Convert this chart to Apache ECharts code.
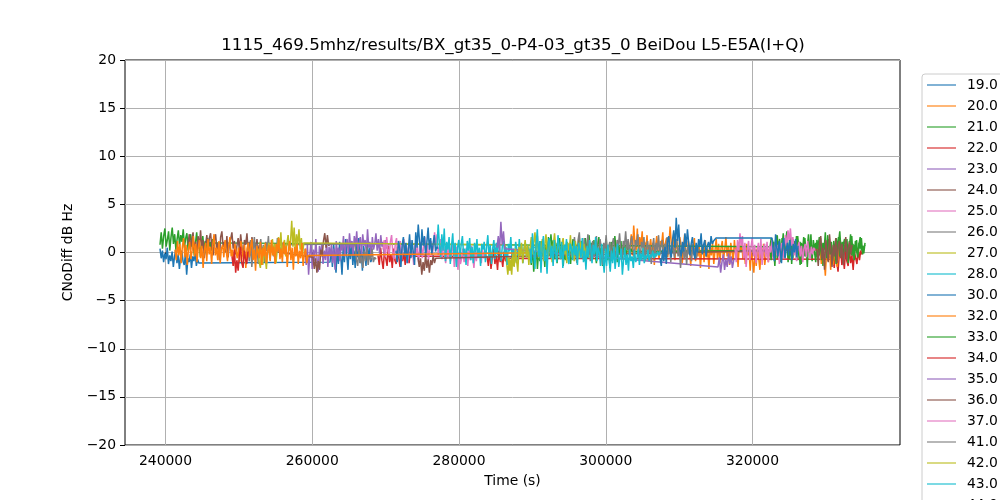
<!DOCTYPE html>
<html><head><meta charset="utf-8">
<script src="https://cdn.jsdelivr.net/npm/echarts@6/dist/echarts.min.js"></script>
<style>html,body{margin:0;padding:0;background:#fff}#c{width:1000px;height:500px}</style>
</head><body><div id="c"></div><script>
const titleText = '1115_469.5mhz/results/BX_gt35_0-P4-03_gt35_0 BeiDou L5-E5A(I+Q)';
const xTicks = [240000, 260000, 280000, 300000, 320000];
const names = ['19.0','20.0','21.0','22.0','23.0','24.0','25.0','26.0','27.0','28.0','30.0','32.0','33.0','34.0','35.0','36.0','37.0','41.0','42.0','43.0','44.0'];
const colors = ['#1f77b4','#ff7f0e','#2ca02c','#d62728','#9467bd','#8c564b','#e377c2','#7f7f7f','#bcbd22','#17becf'];

// each pass: [start time (s), end time (s), CNoDiff values sampled evenly across the pass]
const s19 = [
 [239250, 244700, [0.4,-0.6,0.2,-1.0,-0.1,-0.7,0.5,-1.2,-0.3,-0.9,0.1,-1.5,-0.4,0.3,-1.1,-0.2,-1.7,-0.5,0.2,-0.9,-1.3,-0.1,-2.3,-0.6,-1.0,-0.2,-1.6,-0.4,-0.9,0.1,-1.4,-0.7,-1.1,-1.2]],
 [262420, 268140, [-1.0,0.4,-1.5,0.9,-0.6,-2.1,0.3,-1.2,1.1,-0.4,-2.3,0.6,-1.0,1.4,-0.3,-1.8,0.8,-0.7,1.2,-1.3,0.2,-1.6,0.9,-0.5,1.5,-1.1,0.4,-1.9,0.7,-0.2,-1.4,1.0,-0.8,0.5,-1.0,-0.6]]
];
const s20 = [
 [303310, 322660, [0.6,1.9,-0.3,2.8,1.0,0.2,2.5,-0.6,1.6,0.7,2.2,-0.4,1.1,0.3,1.8,-0.9,0.5,1.4,-0.2,1.0,
  -1.3,0.6,1.7,0.1,-0.7,1.2,0.8,2.1,-0.4,0.9,1.5,-0.5,0.7,2.7,0.9,0.1,2.0,-0.8,1.3,0.4,
  -0.3,1.6,0.8,-1.1,0.3,1.9,0.0,-0.6,1.2,0.5,-1.4,0.9,0.2,1.5,-0.9,0.6,-0.4,1.1,-1.6,0.3,
  0.8,-1.0,1.3,-0.5,0.4,-1.7,0.7,-0.3,1.0,-1.2,0.2,1.4,-0.6,0.9,-1.1,0.5,1.2,-0.8,0.3,1.6,
  -0.4,0.7,-1.3,1.0,0.1,-0.9,1.3,-0.2,0.6,-1.5,0.8,0.2,1.1,-0.7,0.4,-1.2,0.9,-0.3,0.5,-1.9,
  0.2,-0.8,-2.1,0.1,-1.4,0.6,-0.6,-1.8,0.3,-0.5,0.9,-1.3,-0.2,0.6,-1.0,0.3,-0.5,0.1]]
];
const s21 = [
 [239250, 246750, [0.8,2.1,0.4,1.7,2.5,0.6,1.3,2.2,0.2,1.6,2.6,0.9,1.9,0.3,1.4,2.3,0.7,1.8,1.1,2.4,
  0.5,1.5,2.0,0.2,1.2,1.9,0.6,1.6,-0.3,1.0,2.1,0.4,1.3,-0.5,0.8,1.7,0.3,1.2,-0.2,1.5,
  0.6,1.1,0.2,1.4,0.7,1.0]],
 [322390, 335330, [0.6,1.5,-0.4,1.1,0.2,1.8,-0.7,0.9,1.4,-0.2,0.7,2.0,-0.5,0.4,1.3,-1.0,0.8,1.6,0.1,-0.6,
  1.2,0.3,1.7,-0.8,0.5,1.1,-1.2,0.9,0.2,1.5,-0.4,0.6,1.9,-0.1,0.8,-0.9,1.3,0.4,1.0,-0.5,
  0.7,1.6,-0.3,0.9,-1.4,0.5,1.2,0.0,1.8,-0.6,0.4,1.1,-0.9,0.8,0.2,1.5,-0.3,1.0,2.2,0.3,
  -0.7,0.9,1.4,-0.2,0.6,-1.1,1.2,0.4,1.7,-0.4,0.8,0.1,1.3,-0.6,0.9,1.6,0.2,0.7,-0.1,1.0]]
];
const s22 = [
 [268960, 273730, [-0.3,-1.3,0.5,-0.8,-1.7,0.2,-0.6,-1.4,0.7,-1.0,-0.2,-1.6,0.4,-0.8,-1.2,0.6,-0.5,-1.5,0.3,-0.9,-0.1,-1.3,0.5,-0.7,-1.1,0.2,-0.4,-0.6]],
 [283820, 286680, [-0.4,-1.4,0.3,-1.7,-0.6,0.4,-1.2,-0.3,-1.8,0.2,-1.0,-0.5,-1.5,0.1,-0.9,-0.6,-0.7]],
 [330970, 334920, [-0.7,-1.6,0.3,-1.0,-2.0,-0.2,0.6,-1.3,-0.5,-1.7,0.2,-0.9,-1.4,0.5,-1.1,-0.3,-1.8,0.1,-0.6,-1.2,0.4,-0.8,0.2,-0.2]]
];
const s23 = [
 [259010, 270320, [0.4,-1.3,0.8,-2.3,-0.2,1.1,-1.7,0.3,-0.9,1.4,-0.6,-2.0,0.7,-0.3,1.0,-1.2,0.2,-0.8,1.3,-1.5,
  0.6,-0.4,0.9,-1.1,0.4,-1.8,1.2,-0.2,0.5,-0.9,1.0,0.2,1.7,-0.4,0.8,1.4,-0.1,2.0,0.5,1.2,
  -0.3,1.7,0.6,2.2,0.1,1.0,1.6,-0.2,1.9,0.7,1.3,0.0,2.4,0.5,1.1,-0.4,1.6,0.3,0.9,2.0,
  0.2,1.4,-0.1,1.8,0.6,1.1,-0.3,1.3,0.4,0.8]]
];
const s24 = [
 [243070, 253150, [0.9,1.9,0.3,1.4,2.1,0.1,1.1,-0.4,1.7,0.6,2.3,0.4,1.3,-0.6,0.8,1.8,0.2,1.5,2.0,0.5,
  -0.3,1.2,1.9,0.3,1.0,-0.8,1.6,2.2,0.6,1.1,0.0,1.7,-0.5,0.9,1.4,2.1,0.4,1.2,-0.2,0.7,
  1.5,0.2,1.9,0.6,-0.4,1.3,0.8,2.0,0.1,1.1,-0.3,1.6,0.5,1.0,0.2,1.4,-0.1,0.8,0.3,0.2]],
 [260100, 262420, [-0.5,-1.7,-0.6,-2.1,-0.9,-1.8,0.3,-0.4,1.2,2.0,0.5,1.8,0.7,0.9]]
];
const s25 = [
 [269640, 283540, [0.3,1.3,-0.5,1.6,0.4,-0.3,1.1,1.8,0.0,-0.7,0.9,1.5,-0.4,0.6,1.2,-0.9,0.5,1.4,-0.2,0.8,
  -1.1,0.4,1.3,-0.5,0.2,-1.3,0.9,-0.3,0.7,-1.0,0.3,1.1,-0.6,0.5,1.6,-0.2,0.8,-0.8,0.4,1.2,
  -0.4,0.6,2.1,0.7,1.9,-0.3,0.5,1.4,-0.7,0.9,0.1,-1.1,0.4,-0.5,0.8,-0.9,0.2,1.0,-1.5,-0.3,
  0.6,-1.8,0.1,-1.2,-0.6,0.4,-1.0,-0.2,0.5,-1.4,0.3,-0.8,0.7,-0.4,-1.6,0.2,-0.9,0.4,-0.5,0.1,
  -1.1,0.3,-0.6,-0.2]]
];
const s26 = [
 [251240, 256290, [0.5,-0.9,1.3,-1.5,0.3,1.6,-0.5,0.9,-1.2,0.4,1.4,-0.3,0.8,-1.0,1.1,0.2,1.7,-0.6,0.7,1.2,-0.4,0.9,-0.8,1.5,0.1,0.6,-0.5,1.0,0.4,0.8]],
 [265830, 268690, [0.9,-0.7,-1.4,0.3,-1.1,-0.4,-1.6,0.2,-0.9,0.6,-1.3,-0.2,-0.8,0.4,-1.0,-0.5,-0.7]]
];
const s27 = [
 [252600, 259010, [0.4,-1.0,-1.6,0.3,-1.3,0.7,-0.5,-1.7,0.2,1.0,-0.8,0.6,1.4,-0.3,0.9,-1.1,0.5,1.6,0.1,2.1,
  -0.2,0.7,1.3,-0.4,0.9,1.8,0.2,1.1,3.3,0.6,2.6,0.1,1.9,0.8,2.4,0.3,1.5,-0.2,1.0,1.2]],
 [286270, 288000, [0.8,-0.9,-2.3,-0.6,-1.9,0.2,-1.4,-0.4,-1.1,-0.5]]
];
const s28 = [
 [277000, 290360, [0.6,2.9,0.8,-0.5,1.9,0.2,2.5,-0.9,1.1,0.3,1.6,-1.2,0.7,2.0,-0.4,1.0,-1.5,0.5,1.3,-0.7,
  0.9,1.7,-0.3,0.4,-1.3,1.2,0.2,1.5,-0.8,0.6,-1.1,1.0,0.0,1.4,-0.6,0.5,-1.4,0.9,0.3,1.1,
  -1.0,0.6,1.8,-0.5,0.8,-1.2,0.4,1.3,-0.7,1.0,-0.3,1.5,0.2,-0.9,0.7,1.2,-0.4,0.6,-1.3,0.9,
  0.1,1.6,-0.6,0.4,-1.0,1.1,0.3,-0.8,1.4,-0.2,0.8,-1.1,0.5,1.0,-0.5,0.7,0.2,-0.7,0.9,-0.1,
  0.6,0.5]]
];
const s30 = [
 [271410, 277140, [0.2,-1.0,1.2,0.4,-1.5,0.8,1.6,-0.4,1.0,-1.1,0.3,1.9,-0.6,1.3,0.0,-1.3,2.1,0.5,2.9,1.2,-0.3,2.4,0.7,1.7,-0.5,1.1,2.6,0.3,1.5,-0.2,0.9,1.8,0.1,0.6,0.4]]
];
const s32 = [
 [241300, 259420, [0.3,-0.8,1.2,-0.3,0.9,-1.1,0.6,1.5,-0.5,0.8,-1.3,0.4,1.1,-0.7,0.2,1.7,-0.4,0.9,-1.0,0.5,
  1.3,-0.6,0.7,-1.6,0.2,1.0,-0.9,1.4,-0.2,0.6,-1.2,0.9,1.9,-0.3,0.5,-0.8,1.2,-1.1,0.4,0.8,
  -0.5,1.3,0.1,-0.9,0.7,1.6,-0.4,0.3,-1.4,0.9,1.1,-0.6,0.5,-1.0,1.2,0.2,-0.7,0.8,-1.6,0.4,
  1.0,-0.5,0.6,1.4,-0.8,0.3,-1.9,0.7,0.9,-0.6,1.1,-1.3,0.5,-0.4,1.0,-1.1,0.2,0.8,-0.9,1.3,
  -0.3,0.6,-1.2,0.9,0.1,1.5,-0.7,0.4,-1.0,1.1,-0.2,0.7,-1.5,0.3,1.2,-0.8,0.5,-1.8,0.6,-0.4,
  0.9,-1.2,0.2,-0.6,1.0,-1.4,-0.1,0.4,-1.1,-0.3]],
 [329200, 331920, [0.3,-1.2,0.8,-0.5,-2.4,0.4,-0.9,0.9,-1.8,0.2,-1.3,0.6,-0.9,-1.5,0.3,0.1]]
];
const s33 = [
 [289680, 303580, [0.3,-1.3,0.7,-2.0,-0.3,0.9,-1.7,0.2,-0.9,1.2,-0.4,0.6,-1.5,0.8,0.0,1.6,-0.3,1.9,0.4,1.3,
  -0.7,1.0,-1.1,0.3,1.5,-0.6,0.8,-1.4,0.2,-0.8,1.1,-0.2,0.7,-1.2,0.5,1.4,-0.5,0.9,-1.0,0.4,
  1.7,-0.4,1.2,0.1,-0.9,1.5,0.6,-0.6,1.8,0.2,1.0,-0.7,1.3,-0.1,-1.1,0.8,1.6,-0.3,0.5,-1.4,
  0.9,0.2,1.4,-0.8,0.6,-1.6,1.1,0.3,-0.5,1.7,0.4,-1.0,0.8,-0.2,1.2,-0.7,0.5,1.0,-0.4,0.3,
  0.7,-0.1,0.4,0.1]],
 [322390, 335330, [0.2,-0.8,1.3,0.4,-1.4,0.9,1.8,-0.3,0.6,-1.0,1.5,0.2,-0.5,1.1,2.2,0.3,-0.7,0.9,-1.2,1.4,
  0.0,0.8,-0.6,1.7,0.4,-1.3,1.0,0.1,1.6,-0.4,0.7,-1.5,1.1,0.2,1.9,-0.5,0.8,0.0,-1.0,1.3,
  0.5,-0.3,1.5,-0.8,1.0,0.3,2.1,-0.6,0.7,1.4,-0.2,0.6,-0.9,1.2,0.3,-1.2,0.9,1.6,-0.4,0.5,
  1.1,-0.7,0.8,0.1,1.4,-1.1,0.6,1.9,-0.3,0.9,-0.8,1.2,0.2,-0.5,1.0,0.4,1.5,-0.2,0.6,0.8]]
];
const s34 = [
 [249060, 251240, [-0.4,-1.4,0.3,-2.1,-0.8,-1.9,-0.3,0.6,-1.1,-1.6,0.2,-0.7,-1.2,0.1]]
];
const s35 = [
 [285180, 286410, [0.5,1.7,0.2,3.2,0.8,2.2,0.4,0.3]],
 [315300, 317620, [-1.5,-0.5,-2.1,-1.0,-0.2,-1.8,-0.7,-1.5,-0.1,-1.2,-0.4,-1.6,-0.8,-0.6]]
];
const s36 = [
 [274410, 277000, [-0.5,-1.5,-0.6,-2.3,-1.0,-1.9,-0.2,-1.6,-0.7,-2.1,-0.8,-1.3,-0.3,-1.1,-0.6,-0.4]],
 [328790, 333560, [0.3,-1.4,1.0,1.7,-0.7,0.5,-1.8,1.3,0.1,-1.0,1.9,0.4,-1.5,0.8,-0.4,1.5,-1.1,0.7,1.2,-0.6,0.9,-1.3,0.2,1.6,-0.8,0.5,1.1,-0.2,0.8]]
];
const s37 = [
 [317620, 328520, [0.4,-1.0,1.3,0.2,2.0,0.7,1.7,-0.6,1.0,-1.5,0.3,1.2,-0.8,0.6,1.5,-0.4,0.8,-1.1,0.2,1.0,
  -0.7,1.4,-1.3,0.5,0.9,-0.5,1.1,-1.0,0.7,0.0,1.3,-0.7,0.4,1.1,-0.3,0.8,-1.2,0.5,1.0,-0.6,
  0.3,1.8,0.6,2.3,1.2,2.5,0.7,1.6,-0.3,0.9,-0.9,0.5,1.1,-0.4,0.7,-1.0,0.4,0.9,-0.5,1.2,
  0.1,-0.7,0.6,-0.2,0.5,0.2]]
];
const s41 = [
 [295400, 312850, [0.6,-0.5,1.6,0.2,-1.1,1.3,2.1,0.0,0.9,-0.7,1.5,0.4,-0.3,1.9,0.8,-0.9,0.5,1.2,-0.4,0.8,
  1.7,-0.6,0.3,1.4,0.5,-1.3,1.0,0.2,1.8,-0.2,0.6,1.1,-0.8,0.9,1.5,0.1,-0.5,1.3,0.7,2.0,
  0.2,-0.7,1.2,0.6,2.2,0.3,1.4,-0.3,1.0,1.7,0.4,-0.6,1.3,0.7,1.9,0.1,-0.4,1.1,0.5,1.6,
  -0.9,0.5,1.2,-0.1,0.8,-1.2,0.6,1.5,-0.5,1.0,0.2,1.8,-0.3,0.7,1.3,-0.8,0.9,0.3,1.6,-0.2,
  0.7,-1.0,1.1,0.4,-0.6,0.9,1.4,-0.4,0.6,-1.6,0.3,1.0,-0.7,0.5,-1.3,0.8,-0.2,0.4,-0.9,0.6,
  -0.3,0.5,-0.6,0.2,0.4,0.3]]
];
const s42 = [
 [286680, 297860, [-0.5,-1.9,-0.8,-2.3,-0.1,-1.5,0.4,-0.8,-2.0,0.6,-0.4,1.0,-1.1,0.3,1.3,-0.5,0.8,-1.3,0.5,1.6,
  -0.2,0.9,2.1,0.2,1.7,-0.6,1.0,0.0,1.4,-0.9,0.7,1.9,0.1,-0.4,1.2,0.6,-1.0,0.8,2.0,0.3,
  -0.3,1.1,0.4,-0.7,0.9,1.5,-0.2,0.6,-1.1,1.0,0.2,1.8,-0.5,0.7,-0.9,1.2,0.0,0.6,-0.6,1.1,
  0.3,-0.4,0.9,-0.8,0.5,0.1,-0.3,-0.4]]
];
const s43 = [
 [289680, 307400, [0.4,-1.1,2.0,0.2,-1.7,0.9,2.4,-0.5,1.2,-2.1,0.6,1.7,-0.9,0.3,-2.2,1.0,1.5,-0.6,0.7,-1.4,
  1.3,0.1,-1.0,1.8,0.5,-0.7,1.1,-1.6,0.8,0.2,1.4,-0.4,-1.2,0.9,0.5,-0.8,1.2,-0.3,0.7,-1.3,
  1.0,0.3,-0.6,1.5,-1.0,0.2,-1.8,0.7,-0.5,1.3,0.4,-1.1,0.8,-0.2,1.6,-0.9,0.5,0.0,-1.4,0.9,
  -0.6,-2.1,0.4,-1.4,0.8,-0.7,-2.0,0.2,-1.1,0.6,-1.7,-0.3,0.9,-1.5,-0.5,0.4,-2.3,-0.8,0.5,-1.3,
  -0.2,-1.9,0.3,-0.9,-0.4,-1.6,0.2,-1.0,-0.6,0.4,-1.3,-0.1,-0.8,0.5,-1.1,-0.3,-0.7,0.3,-0.9,-0.2,
  -0.5,0.2,-0.6,-0.1,-0.4,0.1,-0.3,0.1]]
];
const s44 = [
 [307400, 315030, [-0.6,-1.4,0.3,-0.9,0.6,-1.2,1.0,1.7,0.2,-0.5,1.3,2.3,0.5,3.6,1.2,2.9,0.3,-0.4,1.1,0.1,
  2.0,0.6,2.4,1.0,-0.3,0.9,1.6,0.2,-0.7,1.0,0.0,1.4,0.6,2.0,-0.2,0.8,1.3,-0.4,0.7,1.1,
  0.3,1.7,0.9,1.2,1.4,1.5]],
 [322660, 326200, [1.5,0.2,-0.9,1.9,0.5,-0.4,1.2,0.1,-1.1,0.8,1.5,-0.6,0.3,1.0,-0.3,1.3,0.4,-0.8,0.9,0.0,1.4,-0.5,0.7]]
];
const allPasses = [s19,s20,s21,s22,s23,s24,s25,s26,s27,s28,s30,s32,s33,s34,s35,s36,s37,s41,s42,s43,s44];

function build(passes){
  const out = [];
  passes.forEach(function(p){
    const t0 = p[0], t1 = p[1], vals = p[2], n = vals.length;
    vals.forEach(function(v, i){ out.push([t0 + (t1 - t0) * i / (n - 1), v]); });
  });
  return out;
}

const FONT = 'DejaVu Sans';
const chart = echarts.init(document.getElementById('c'), null, {renderer: 'canvas'});
const series = names.map(function(nm, i){
  return {
    name: nm, type: 'line', data: build(allPasses[i]),
    showSymbol: false, symbol: 'none', silent: true,
    color: colors[i % 10],
    lineStyle: {width: 1.5, color: colors[i % 10]},
    emphasis: {disabled: true}
  };
});

chart.setOption({
  animation: false,
  backgroundColor: '#ffffff',
  graphic: [{
    type: 'text', x: 513, y: 46,
    style: {text: titleText, fontFamily: FONT, fontSize: 16.7, fill: '#000', textAlign: 'center', textVerticalAlign: 'middle'}
  }],
  grid: {left: 125, right: 100, top: 60, bottom: 55, show: true, borderColor: '#000', borderWidth: 1, backgroundColor: 'transparent'},
  legend: {
    orient: 'vertical', left: 922, top: 74, height: 480,
    padding: [4, 5, 4, 5], itemGap: 7, itemWidth: 29, itemHeight: 1.5, icon: 'rect',
    itemStyle: {opacity: 0.75},
    backgroundColor: 'rgba(255,255,255,0.8)', borderColor: '#cccccc', borderWidth: 1, borderRadius: 3,
    selectedMode: false,
    textStyle: {fontFamily: FONT, fontSize: 13.9, color: '#000', lineHeight: 14, padding: [0, 0, 0, 6]},
    data: names
  },
  xAxis: {
    type: 'value', min: 234480, max: 340100,
    name: 'Time (s)', nameLocation: 'middle', nameGap: 29,
    nameTextStyle: {fontFamily: FONT, fontSize: 13.9, color: '#000'},
    axisLine: {show: false},
    axisTick: {show: true, length: 5, lineStyle: {color: '#000'}, customValues: xTicks},
    axisLabel: {customValues: xTicks, color: '#000', fontFamily: FONT, fontSize: 13.9, margin: 9, formatter: function(v){ return String(v); }},
    splitLine: {show: true, lineStyle: {color: '#b0b0b0', width: 1}}
  },
  yAxis: {
    type: 'value', min: -20, max: 20, interval: 5,
    name: 'CNoDiff dB Hz', nameLocation: 'middle', nameGap: 46, nameRotate: 90,
    nameTextStyle: {fontFamily: FONT, fontSize: 13.9, color: '#000'},
    axisLine: {show: false},
    axisTick: {show: true, length: 5, lineStyle: {color: '#000'}},
    axisLabel: {color: '#000', fontFamily: FONT, fontSize: 13.9, margin: 9, formatter: function(v){ return v < 0 ? '\u2212' + Math.abs(v) : String(v); }},
    splitLine: {show: true, lineStyle: {color: '#b0b0b0', width: 1}}
  },
  series: series
});
</script></body></html>
